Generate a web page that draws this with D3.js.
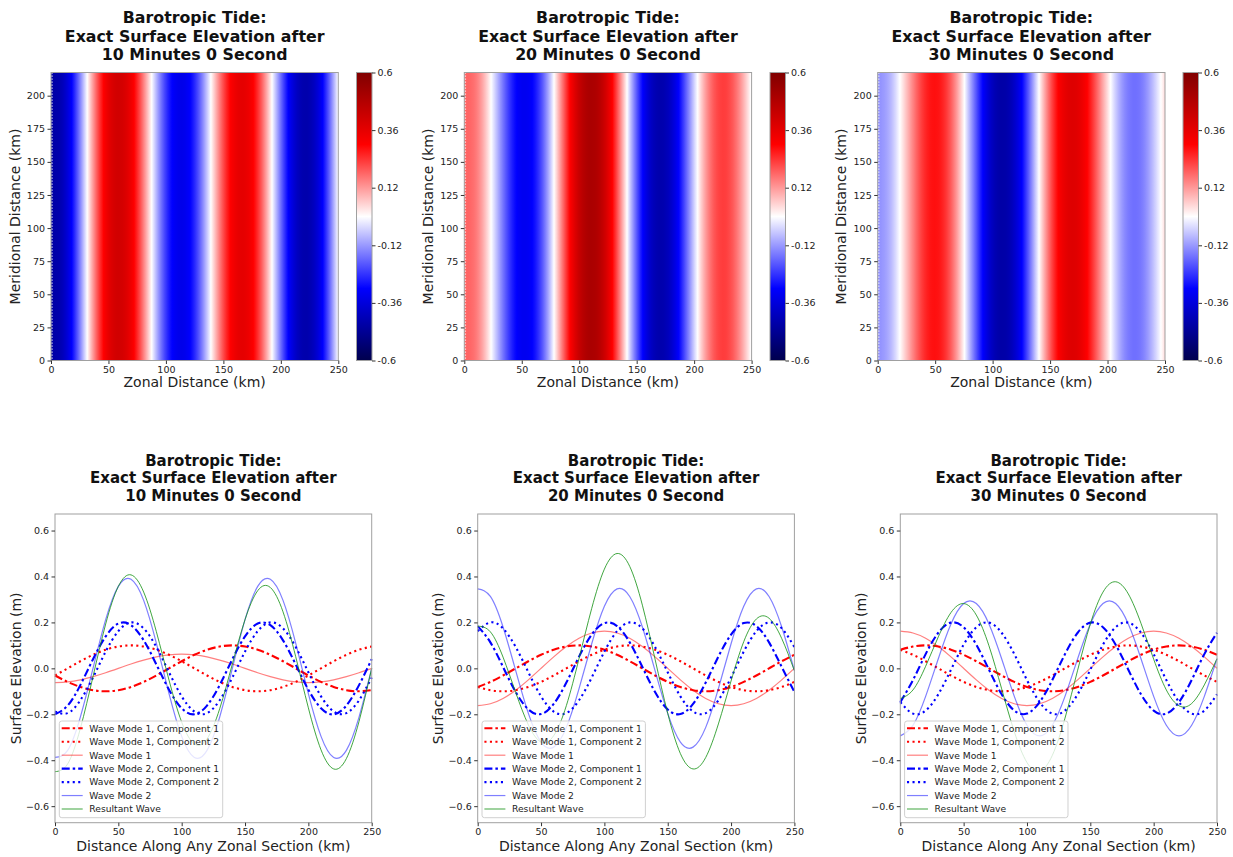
<!DOCTYPE html>
<html>
<head>
<meta charset="utf-8">
<title>Barotropic Tide</title>
<script src="https://cdn.jsdelivr.net/npm/d3@7"></script>
<style>
body { margin: 0; background: #fff; }
svg { font-family: "DejaVu Sans", sans-serif; }
</style>
</head>
<body>
<svg id="chart" width="1233" height="857"></svg>
<script>
// distance along the zonal section (km)
var distance = [0,10,20,30,40,50,60,70,80,90,100,110,120,130,140,150,160,170,180,190,200,210,220,230,240,250];

var timeLabels = ["10 Minutes 0 Second", "20 Minutes 0 Second", "30 Minutes 0 Second"];
var seriesNames = ["Wave Mode 1, Component 1", "Wave Mode 1, Component 2", "Wave Mode 1",
                   "Wave Mode 2, Component 1", "Wave Mode 2, Component 2", "Wave Mode 2", "Resultant Wave"];

// surface elevation (m)
// after 10 minutes
var m1c1_10 = [-0.031,-0.059,-0.081,-0.095,-0.100,-0.095,-0.081,-0.059,-0.031,0.000,0.031,0.059,0.081,0.095,0.100,0.095,0.081,0.059,0.031,0.000,-0.031,-0.059,-0.081,-0.095,-0.100,-0.095];
var m1c2_10 = [-0.031,0.000,0.031,0.059,0.081,0.095,0.100,0.095,0.081,0.059,0.031,0.000,-0.031,-0.059,-0.081,-0.095,-0.100,-0.095,-0.081,-0.059,-0.031,0.000,0.031,0.059,0.081,0.095];
var m1_10   = [-0.062,-0.059,-0.050,-0.036,-0.019,0.000,0.019,0.036,0.050,0.059,0.062,0.059,0.050,0.036,0.019,0.000,-0.019,-0.036,-0.050,-0.059,-0.062,-0.059,-0.050,-0.036,-0.019,0.000];
var m2c1_10 = [-0.200,-0.162,-0.073,0.040,0.139,0.195,0.188,0.122,0.017,-0.093,-0.174,-0.200,-0.162,-0.073,0.040,0.139,0.195,0.188,0.122,0.017,-0.093,-0.174,-0.200,-0.162,-0.073,0.040];
var m2c2_10 = [-0.188,-0.195,-0.139,-0.040,0.073,0.162,0.200,0.174,0.093,-0.017,-0.122,-0.188,-0.195,-0.139,-0.040,0.073,0.162,0.200,0.174,0.093,-0.017,-0.122,-0.188,-0.195,-0.139,-0.040];
var m2_10   = [-0.388,-0.357,-0.212,0.000,0.212,0.357,0.388,0.296,0.110,-0.110,-0.296,-0.388,-0.357,-0.212,0.000,0.212,0.357,0.388,0.296,0.110,-0.110,-0.296,-0.388,-0.357,-0.212,0.000];
var res_10  = [-0.450,-0.416,-0.262,-0.036,0.193,0.357,0.407,0.332,0.160,-0.051,-0.234,-0.329,-0.307,-0.176,0.019,0.212,0.338,0.352,0.246,0.051,-0.172,-0.355,-0.438,-0.393,-0.231,0.000];
// after 20 minutes
var m1c1_20 = [-0.081,-0.059,-0.031,0.000,0.031,0.059,0.081,0.095,0.100,0.095,0.081,0.059,0.031,0.000,-0.031,-0.059,-0.081,-0.095,-0.100,-0.095,-0.081,-0.059,-0.031,0.000,0.031,0.059];
var m1c2_20 = [-0.081,-0.095,-0.100,-0.095,-0.081,-0.059,-0.031,0.000,0.031,0.059,0.081,0.095,0.100,0.095,0.081,0.059,0.031,0.000,-0.031,-0.059,-0.081,-0.095,-0.100,-0.095,-0.081,-0.059];
var m1_20   = [-0.162,-0.154,-0.131,-0.095,-0.050,0.000,0.050,0.095,0.131,0.154,0.162,0.154,0.131,0.095,0.050,0.000,-0.050,-0.095,-0.131,-0.154,-0.162,-0.154,-0.131,-0.095,-0.050,0.000];
var m2c1_20 = [0.184,0.113,0.006,-0.103,-0.179,-0.199,-0.155,-0.062,0.051,0.147,0.197,0.184,0.113,0.006,-0.103,-0.179,-0.199,-0.155,-0.062,0.051,0.147,0.197,0.184,0.113,0.006,-0.103];
var m2c2_20 = [0.162,0.200,0.174,0.093,-0.017,-0.122,-0.188,-0.195,-0.139,-0.040,0.073,0.162,0.200,0.174,0.093,-0.017,-0.122,-0.188,-0.195,-0.139,-0.040,0.073,0.162,0.200,0.174,0.093];
var m2_20   = [0.346,0.313,0.180,-0.010,-0.196,-0.321,-0.343,-0.257,-0.088,0.107,0.270,0.346,0.313,0.180,-0.010,-0.196,-0.321,-0.343,-0.257,-0.088,0.107,0.270,0.346,0.313,0.180,-0.010];
var res_20  = [0.184,0.159,0.049,-0.105,-0.246,-0.321,-0.293,-0.162,0.043,0.261,0.432,0.500,0.444,0.275,0.040,-0.196,-0.371,-0.438,-0.388,-0.242,-0.055,0.116,0.215,0.218,0.130,-0.010];
// after 30 minutes
var m1c1_30 = [0.081,0.095,0.100,0.095,0.081,0.059,0.031,0.000,-0.031,-0.059,-0.081,-0.095,-0.100,-0.095,-0.081,-0.059,-0.031,0.000,0.031,0.059,0.081,0.095,0.100,0.095,0.081,0.059];
var m1c2_30 = [0.081,0.059,0.031,0.000,-0.031,-0.059,-0.081,-0.095,-0.100,-0.095,-0.081,-0.059,-0.031,0.000,0.031,0.059,0.081,0.095,0.100,0.095,0.081,0.059,0.031,0.000,-0.031,-0.059];
var m1_30   = [0.162,0.154,0.131,0.095,0.050,0.000,-0.050,-0.095,-0.131,-0.154,-0.162,-0.154,-0.131,-0.095,-0.050,0.000,0.050,0.095,0.131,0.154,0.162,0.154,0.131,0.095,0.050,0.000];
var m2c1_30 = [-0.147,-0.051,0.062,0.155,0.199,0.179,0.103,-0.006,-0.113,-0.184,-0.197,-0.147,-0.051,0.062,0.155,0.199,0.179,0.103,-0.006,-0.113,-0.184,-0.197,-0.147,-0.051,0.062,0.155];
var m2c2_30 = [-0.147,-0.197,-0.184,-0.113,-0.006,0.103,0.179,0.199,0.155,0.062,-0.051,-0.147,-0.197,-0.184,-0.113,-0.006,0.103,0.179,0.199,0.155,0.062,-0.051,-0.147,-0.197,-0.184,-0.113];
var m2_30   = [-0.294,-0.248,-0.122,0.042,0.193,0.282,0.282,0.193,0.042,-0.122,-0.248,-0.294,-0.248,-0.122,0.042,0.193,0.282,0.282,0.193,0.042,-0.122,-0.248,-0.294,-0.248,-0.122,0.042];
var res_30  = [-0.132,-0.094,0.009,0.137,0.243,0.282,0.232,0.098,-0.089,-0.276,-0.410,-0.448,-0.379,-0.217,-0.008,0.193,0.332,0.377,0.324,0.196,0.040,-0.094,-0.163,-0.153,-0.072,0.042];

// ticks
var heatXTicks = [0,50,100,150,200,250];
var heatYTicks = [0,25,50,75,100,125,150,175,200];
var cbTicks = [0.6,0.36,0.12,-0.12,-0.36,-0.6];
var lineXTicks = [0,50,100,150,200,250];
var lineYTicks = [-0.6,-0.4,-0.2,0,0.2,0.4,0.6];

var panels = [
  [m1c1_10, m1c2_10, m1_10, m2c1_10, m2c2_10, m2_10, res_10],
  [m1c1_20, m1c2_20, m1_20, m2c1_20, m2c2_20, m2_20, res_20],
  [m1c1_30, m1c2_30, m1_30, m2c1_30, m2c2_30, m2_30, res_30]
];

var styles = [
  {color: "#ff0000", width: 2.1, dash: "8,3,2.5,3", opacity: 1},
  {color: "#ff0000", width: 2.1, dash: "2.1,3.4", opacity: 1},
  {color: "#ff0000", width: 1.2, dash: null, opacity: 0.5},
  {color: "#0000ff", width: 2.1, dash: "8,3,2.5,3", opacity: 1},
  {color: "#0000ff", width: 2.1, dash: "2.1,3.4", opacity: 1},
  {color: "#0000ff", width: 1.2, dash: null, opacity: 0.5},
  {color: "#109010", width: 1, dash: null, opacity: 0.8}
];

var svg = d3.select("#chart");
var defs = svg.append("defs");

// matplotlib "seismic"
var seismic = d3.scaleLinear()
    .domain([-0.6, -0.3, 0, 0.3, 0.6])
    .range(["rgb(0,0,77)", "rgb(0,0,255)", "rgb(255,255,255)", "rgb(255,0,0)", "rgb(128,0,0)"]);

var lineLeft = [55, 477.7, 900.3], lineW = 316.7, lineTop = 514, lineH = 308.7;
var heatLeft = [51, 464.3, 877.7], heatW = 287.3, heatTop = 72.5, heatH = 288;
var cbLeft = [356.5, 770, 1183], cbW = 15.5;
var frameColor = "#a0a0a0", tickColor = "#333", textColor = "#222";

function title(cx, y0, step, size, i) {
  ["Barotropic Tide:", "Exact Surface Elevation after", timeLabels[i]].forEach(function(s, k) {
    svg.append("text").attr("x", cx).attr("y", y0 + k * step)
        .attr("text-anchor", "middle").attr("font-weight", "bold")
        .attr("font-size", size).attr("fill", "#111").text(s);
  });
}

function styleAxis(g) {
  g.select(".domain").remove();
  g.selectAll(".tick line").attr("stroke", tickColor);
  g.selectAll(".tick text").attr("fill", textColor).attr("font-size", 9.5)
      .attr("font-family", "DejaVu Sans, sans-serif");
}

// colorbar gradient
var cbGrad = defs.append("linearGradient").attr("id", "cbGrad")
    .attr("x1", 0).attr("y1", 1).attr("x2", 0).attr("y2", 0);
seismic.domain().forEach(function(v) {
  cbGrad.append("stop").attr("offset", (v + 0.6) / 1.2).attr("stop-color", seismic(v));
});

panels.forEach(function(series, i) {
  // ---------- line chart ----------
  var x = d3.scaleLinear().domain([0, 250]).range([0, lineW]);
  var y = d3.scaleLinear().domain([-0.672, 0.672]).range([lineH, 0]);
  var g = svg.append("g").attr("transform", "translate(" + lineLeft[i] + "," + lineTop + ")");

  var line = d3.line()
      .x(function(d, j) { return x(distance[j]); })
      .y(function(d) { return y(d); })
      .curve(d3.curveNatural);

  var paths = g.selectAll("path.wave").data(series).enter().append("path")
      .attr("class", "wave")
      .attr("fill", "none")
      .attr("d", line)
      .attr("stroke", function(d, k) { return styles[k].color; })
      .attr("stroke-width", function(d, k) { return styles[k].width; })
      .attr("stroke-dasharray", function(d, k) { return styles[k].dash; })
      .attr("stroke-opacity", function(d, k) { return styles[k].opacity; });

  g.append("rect").attr("width", lineW).attr("height", lineH)
      .attr("fill", "none").attr("stroke", frameColor);

  g.append("g").attr("transform", "translate(0," + lineH + ")")
      .call(d3.axisBottom(x).tickValues(lineXTicks).tickSize(3.5).tickPadding(2.5))
      .call(styleAxis);
  g.append("g")
      .call(d3.axisLeft(y).tickValues(lineYTicks).tickSize(3.5).tickPadding(2.5).tickFormat(d3.format(".1f")))
      .call(styleAxis);

  // legend
  var lg = g.append("g").attr("transform", "translate(4.3," + (lineH - 101.7) + ")");
  lg.append("rect").attr("width", 163.4).attr("height", 96.7).attr("rx", 2.5)
      .attr("fill", "#fff").attr("fill-opacity", 0.8).attr("stroke", "#d0d0d0");
  seriesNames.forEach(function(name, k) {
    var yy = 7.3 + k * 13.45;
    lg.append("line").attr("x1", 2.4).attr("x2", 23.4).attr("y1", yy).attr("y2", yy)
        .attr("stroke", styles[k].color).attr("stroke-width", styles[k].width)
        .attr("stroke-dasharray", styles[k].dash).attr("stroke-opacity", styles[k].opacity);
    lg.append("text").attr("x", 30).attr("y", yy + 3.3).attr("font-size", 9.2)
        .attr("fill", textColor).text(name);
  });

  svg.append("text").attr("x", lineLeft[i] + lineW / 2).attr("y", 851)
      .attr("text-anchor", "middle").attr("font-size", 14).attr("fill", textColor)
      .text("Distance Along Any Zonal Section (km)");
  svg.append("text")
      .attr("transform", "translate(" + (lineLeft[i] - 34.5) + "," + (lineTop + lineH / 2) + ") rotate(-90)")
      .attr("text-anchor", "middle").attr("font-size", 14).attr("fill", textColor)
      .text("Surface Elevation (m)");
  title(lineLeft[i] + lineW / 2, 465.5, 17.5, 15, i);

  // ---------- heat map (the resultant wave, constant along y) ----------
  var node = paths.filter(function(d, k) { return k === 6; }).node();
  var len = node.getTotalLength();
  var grad = defs.append("linearGradient").attr("id", "heat" + i)
      .attr("x1", 0).attr("y1", 0).attr("x2", 1).attr("y2", 0);
  for (var s = 0; s <= 500; s++) {
    var p = node.getPointAtLength(len * s / 500);
    grad.append("stop")
        .attr("offset", Math.max(0, Math.min(1, x.invert(p.x) / 250)))
        .attr("stop-color", seismic(Math.max(-0.6, Math.min(0.6, y.invert(p.y)))));
  }

  var hx = d3.scaleLinear().domain([0, 250]).range([0, heatW]);
  var hy = d3.scaleLinear().domain([0, 217.5]).range([heatH, 0]);
  var hg = svg.append("g").attr("transform", "translate(" + heatLeft[i] + "," + heatTop + ")");
  hg.append("rect").attr("x", hx(0)).attr("y", hy(217.5))
      .attr("width", hx(250) - hx(0)).attr("height", hy(0) - hy(217.5))
      .attr("fill", "url(#heat" + i + ")");
  hg.append("line").attr("x1", 1).attr("x2", 1).attr("y1", 0).attr("y2", heatH)
      .attr("stroke", "#fff").attr("stroke-width", 1.5).attr("stroke-dasharray", "1.3,1.7")
      .attr("stroke-opacity", 0.8);
  hg.append("rect").attr("width", heatW).attr("height", heatH)
      .attr("fill", "none").attr("stroke", frameColor);
  hg.append("g").attr("transform", "translate(0," + heatH + ")")
      .call(d3.axisBottom(hx).tickValues(heatXTicks).tickSize(3.5).tickPadding(2.5))
      .call(styleAxis);
  hg.append("g")
      .call(d3.axisLeft(hy).tickValues(heatYTicks).tickSize(3.5).tickPadding(2.5))
      .call(styleAxis);

  svg.append("text").attr("x", heatLeft[i] + heatW / 2).attr("y", 387)
      .attr("text-anchor", "middle").attr("font-size", 14).attr("fill", textColor)
      .text("Zonal Distance (km)");
  svg.append("text")
      .attr("transform", "translate(" + (heatLeft[i] - 31.5) + "," + (heatTop + heatH / 2) + ") rotate(-90)")
      .attr("text-anchor", "middle").attr("font-size", 14).attr("fill", textColor)
      .text("Meridional Distance (km)");
  title(heatLeft[i] + heatW / 2, 23, 18.5, 15.8, i);

  // colorbar
  var cy = d3.scaleLinear().domain([-0.6, 0.6]).range([heatH, 0]);
  var cg = svg.append("g").attr("transform", "translate(" + cbLeft[i] + "," + heatTop + ")");
  cg.append("rect").attr("width", cbW).attr("height", heatH).attr("fill", "url(#cbGrad)")
      .attr("stroke", frameColor);
  cg.append("g").attr("transform", "translate(" + cbW + ",0)")
      .call(d3.axisRight(cy).tickValues(cbTicks).tickSize(3.5).tickPadding(2)
        .tickFormat(function(d) { return String(d); }))
      .call(styleAxis);
});
</script>
</body>
</html>
